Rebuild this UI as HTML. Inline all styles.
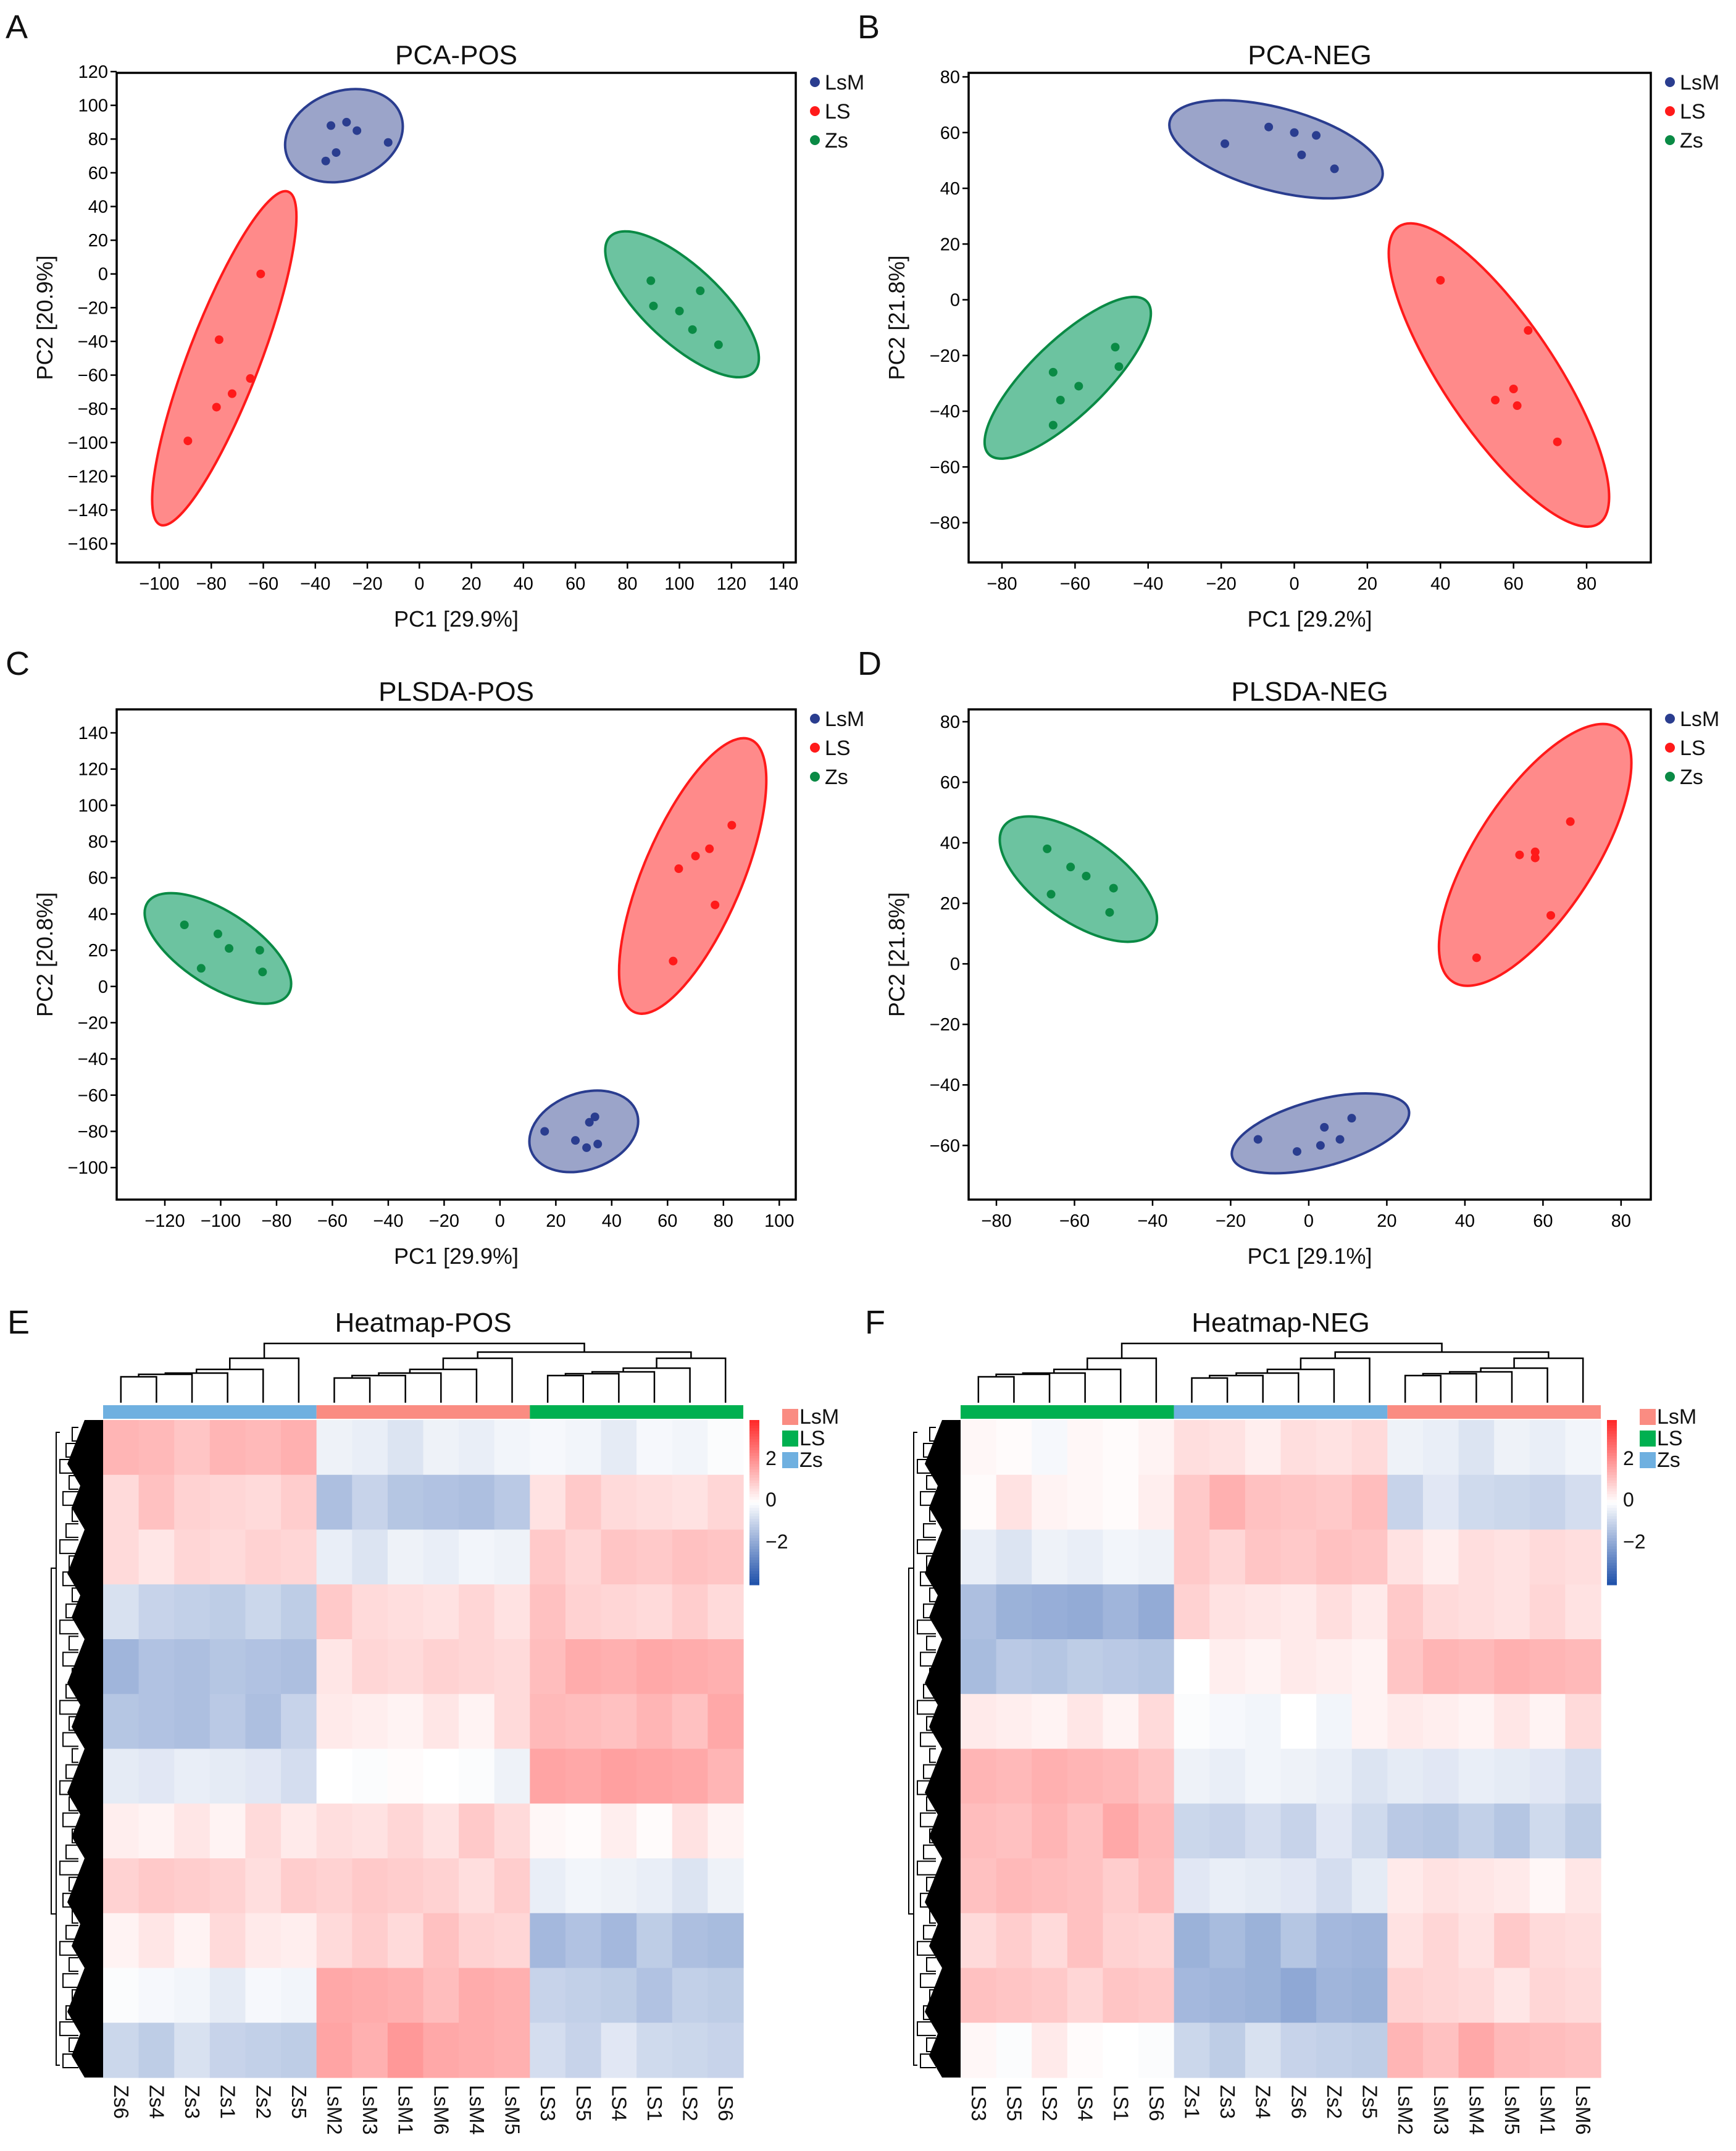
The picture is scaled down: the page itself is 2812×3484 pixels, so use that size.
<!DOCTYPE html>
<html><head><meta charset="utf-8">
<style>
html,body{margin:0;padding:0;background:#fff}
svg{display:block;font-family:"Liberation Sans",Arial,sans-serif}
</style></head>
<body>
<svg id="fig" width="2812" height="3484" viewBox="0 0 2812 3484" xmlns="http://www.w3.org/2000/svg"></svg>
<script>
// ---------- scatter data ----------
const groups = ['LsM','LS','Zs'];
const A_LsM_x=[-34,-28,-24,-12,-32,-36], A_LsM_y=[88,90,85,78,72,67];
const A_LS_x=[-61,-77,-65,-72,-78,-89], A_LS_y=[0,-39,-62,-71,-79,-99];
const A_Zs_x=[89,108,90,100,105,115], A_Zs_y=[-4,-10,-19,-22,-33,-42];
const B_LsM_x=[-19,-7,0,2,6,11], B_LsM_y=[56,62,60,52,59,47];
const B_LS_x=[40,64,60,55,61,72], B_LS_y=[7,-11,-32,-36,-38,-51];
const B_Zs_x=[-49,-48,-59,-64,-66,-66], B_Zs_y=[-17,-24,-31,-36,-26,-45];
const C_LsM_x=[16,34,32,27,31,35], C_LsM_y=[-80,-72,-75,-85,-89,-87];
const C_LS_x=[83,75,70,64,77,62], C_LS_y=[89,76,72,65,45,14];
const C_Zs_x=[-113,-101,-97,-86,-85,-107], C_Zs_y=[34,29,21,20,8,10];
const D_LsM_x=[11,4,8,3,-13,-3], D_LsM_y=[-51,-54,-58,-60,-58,-62];
const D_LS_x=[67,58,54,58,62,43], D_LS_y=[47,37,36,35,16,2];
const D_Zs_x=[-67,-61,-57,-50,-51,-66], D_Zs_y=[38,32,29,25,17,23];
// ellipse centers in data units
const A_ell_cx=[-29,-75,101], A_ell_cy=[82,-50,-18];
const B_ell_cx=[-5,56,-62], B_ell_cy=[54,-27,-28];
const C_ell_cx=[30,69,-101], C_ell_cy=[-80,61,21];
const D_ell_cx=[3,58,-59], D_ell_cy=[-56,36,28];
const A_xt=[-100,-80,-60,-40,-20,0,20,40,60,80,100,120,140], A_yt=[120,100,80,60,40,20,0,-20,-40,-60,-80,-100,-120,-140,-160];
const B_xt=[-80,-60,-40,-20,0,20,40,60,80], B_yt=[80,60,40,20,0,-20,-40,-60,-80];
const C_xt=[-120,-100,-80,-60,-40,-20,0,20,40,60,80,100], C_yt=[140,120,100,80,60,40,20,0,-20,-40,-60,-80,-100];
const D_xt=[-80,-60,-40,-20,0,20,40,60,80], D_yt=[80,60,40,20,0,-20,-40,-60];

// ---------- heatmap data (segment means per group) ----------
const E_cols=['Zs6','Zs4','Zs3','Zs1','Zs2','Zs5','LsM2','LsM3','LsM1','LsM6','LsM4','LsM5','LS3','LS5','LS4','LS1','LS2','LS6'];
const E_Zs=[0.8,0.6,0.4,-0.6,-1.0,-0.8,-0.4,0.3,0.5,0.3,-0.2,-0.6];
const E_LsM=[-0.3,-0.8,-0.3,0.5,0.4,0.3,-0.1,0.5,0.5,0.6,0.9,1.1];
const E_LS=[-0.2,0.5,0.6,0.6,0.9,0.9,1.0,0.2,-0.3,-0.9,-0.8,-0.5];
const F_cols=['LS3','LS5','LS2','LS4','LS1','LS6','Zs1','Zs3','Zs4','Zs6','Zs2','Zs5','LsM2','LsM3','LsM4','LsM5','LsM1','LsM6'];
const F_LS=[0,0.2,-0.3,-1.1,-0.9,0.3,0.8,0.9,0.7,0.6,0.6,0.1];
const F_Zs=[0.3,0.8,0.6,0.4,0.1,0,-0.3,-0.5,-0.4,-1.0,-1.2,-0.6];
const F_LsM=[-0.3,-0.5,0.3,0.5,0.8,0.3,-0.4,-0.7,0.2,0.5,0.4,0.9];
const colOffset=[0.1,-0.15,0.05,0.15,-0.1,-0.05,0.1,-0.1,0.05,-0.15,0.15,0];

const svg=document.getElementById('fig');
const NS='http://www.w3.org/2000/svg';
function mk(tag,attrs,parent,text){const e=document.createElementNS(NS,tag);for(const k in attrs)e.setAttribute(k,attrs[k]);if(text!==undefined)e.textContent=text;(parent||svg).appendChild(e);return e;}

const fill={LsM:'#9ba4c9',LS:'#ff8a8a',Zs:'#6cc3a0'};
const stroke={LsM:'#2a3d8f',LS:'#ff1a1a',Zs:'#0a8a45'};
const dot={LsM:'#2a3d8f',LS:'#ff1a1a',Zs:'#0a8a45'};

function panel(cfg){
  const g=mk('g',{});
  
  
  const sx=v=>cfg.x0+(v-cfg.xmin)*cfg.kx;
  const sy=v=>cfg.y0+(cfg.ymax-v)*cfg.ky;
  cfg.ell.forEach((e,i)=>{
    const cx=sx(cfg.ecx[i]), cy=sy(cfg.ecy[i]);
    const el=mk('ellipse',{cx:cx,cy:cy,rx:e[0],ry:e[1],transform:`rotate(${e[2]} ${cx} ${cy})`,fill:fill[groups[i]],stroke:stroke[groups[i]],'stroke-width':4},g);
    
    
  });
  groups.forEach((gr,i)=>{
    cfg.px[i].forEach((xv,j)=>{
      const c=mk('circle',{cx:sx(xv),cy:sy(cfg.py[i][j]),r:7,fill:dot[gr]},g);
      
      
    });
  });
  const f=mk('rect',{x:cfg.fx0,y:cfg.fy0,width:cfg.fx1-cfg.fx0,height:cfg.fy1-cfg.fy0,fill:'none',stroke:'#000','stroke-width':3.5},g);
  
  
  cfg.xt.forEach(t=>{
    const x=sx(t);
    mk('line',{x1:x,y1:cfg.fy1,x2:x,y2:cfg.fy1+10,stroke:'#000','stroke-width':2.5},g);
    const tx=mk('text',{x:x,y:cfg.fy1+44,'font-size':29,'text-anchor':'middle',fill:'#000'},g,t<0?'\u2212'+(-t):String(t));
    
    
  });
  cfg.yt.forEach(t=>{
    const y=sy(t);
    mk('line',{x1:cfg.fx0-10,y1:y,x2:cfg.fx0,y2:y,stroke:'#000','stroke-width':2.5},g);
    const tx=mk('text',{x:cfg.fx0-14,y:y+10,'font-size':29,'text-anchor':'end',fill:'#000'},g,t<0?'\u2212'+(-t):String(t));
    
    
  });
  const cxm=(cfg.fx0+cfg.fx1)/2;
  const ti=mk('text',{x:cxm,y:cfg.fy0-14,'font-size':44,'text-anchor':'middle',fill:'#111'},g,cfg.title);
  
  
  const xl=mk('text',{x:cxm,y:cfg.fy1+104,'font-size':36,'text-anchor':'middle',fill:'#111'},g,cfg.xlab);
  
  
  const ym=(cfg.fy0+cfg.fy1)/2;
  const yl=mk('text',{x:cfg.fx0-104,y:ym,'font-size':36,'text-anchor':'middle',fill:'#111',transform:`rotate(-90 ${cfg.fx0-104} ${ym})`},g,cfg.ylab);
  
  
  const le=mk('text',{x:cfg.fx0-180,y:cfg.fy0-56,'font-size':54,fill:'#111'},g,cfg.letter);
  
  
  groups.forEach((gr,i)=>{
    const ly=cfg.fy0+15+i*47;
    const c=mk('circle',{cx:cfg.fx1+31,cy:ly,r:8,fill:dot[gr]},g);
    
    
    const t=mk('text',{x:cfg.fx1+47,y:ly+12,'font-size':34,fill:'#111'},g,gr);
    
    
  });
}

panel({name:'pca-pos-panel',letter:'A',title:'PCA-POS',xlab:'PC1 [29.9%]',ylab:'PC2 [20.9%]',
  fx0:189,fx1:1289,fy0:118,fy1:911,x0:258,xmin:-100,kx:4.213,y0:116,ymax:120,ky:2.731,
  xt:A_xt,yt:A_yt,px:[A_LsM_x,A_LS_x,A_Zs_x],py:[A_LsM_y,A_LS_y,A_Zs_y],
  ecx:A_ell_cx,ecy:A_ell_cy,ell:[[98,72,-20],[289,58,-69],[160,62,43]]});
panel({name:'pca-neg-panel',letter:'B',title:'PCA-NEG',xlab:'PC1 [29.2%]',ylab:'PC2 [21.8%]',
  fx0:1569,fx1:2674,fy0:118,fy1:911,x0:1623,xmin:-80,kx:5.919,y0:124.5,ymax:80,ky:4.513,
  xt:B_xt,yt:B_yt,px:[B_LsM_x,B_LS_x,B_Zs_x],py:[B_LsM_y,B_LS_y,B_Zs_y],
  ecx:B_ell_cx,ecy:B_ell_cy,ell:[[178,67,15],[290,90,56],[178,60,-44]]});
panel({name:'plsda-pos-panel',letter:'C',title:'PLSDA-POS',xlab:'PC1 [29.9%]',ylab:'PC2 [20.8%]',
  fx0:189,fx1:1289,fy0:1149,fy1:1943,x0:267,xmin:-120,kx:4.524,y0:1187,ymax:140,ky:2.934,
  xt:C_xt,yt:C_yt,px:[C_LsM_x,C_LS_x,C_Zs_x],py:[C_LsM_y,C_LS_y,C_Zs_y],
  ecx:C_ell_cx,ecy:C_ell_cy,ell:[[91,62,-20],[240,80,-67],[136,60,33]]});
panel({name:'plsda-neg-panel',letter:'D',title:'PLSDA-NEG',xlab:'PC1 [29.1%]',ylab:'PC2 [21.8%]',
  fx0:1569,fx1:2674,fy0:1149,fy1:1943,x0:1614,xmin:-80,kx:6.324,y0:1169,ymax:80,ky:4.902,
  xt:D_xt,yt:D_yt,px:[D_LsM_x,D_LS_x,D_Zs_x],py:[D_LsM_y,D_LS_y,D_Zs_y],
  ecx:D_ell_cx,ecy:D_ell_cy,ell:[[148,54,-15],[245,96,-57],[148,68,35]]});

// ---------- heatmaps ----------
function col(v){
  const t=Math.max(-1,Math.min(1,v/2.6));
  let r,g,b;
  if(t>=0){r=255;g=Math.round(255-215*t);b=Math.round(255-215*t);}
  else{const u=-t;r=Math.round(255-225*u);g=Math.round(255-175*u);b=Math.round(255-85*u);}
  return `rgb(${r},${g},${b})`;
}
const barCol={LsM:'#fa8c82',LS:'#00b050',Zs:'#6fb0e0'};
function heatmap(cfg){
  const g=mk('g',{});
  
  
  const n=cfg.cols.length, cw=(cfg.x1-cfg.x0)/n, nseg=cfg.data[0].length, sh=(cfg.y1-cfg.y0)/nseg;
  for(let c=0;c<n;c++){
    const gi=Math.floor(c/6), ci=c%6;
    for(let s=0;s<nseg;s++){
      const v=cfg.data[gi][s]+colOffset[(ci*2+s)%12];
      const r=mk('rect',{x:cfg.x0+c*cw,y:cfg.y0+s*sh,width:cw+0.6,height:sh+0.6,fill:col(v)},g);
      
      
    }
    const lx=cfg.x0+(c+0.5)*cw-11, ly=cfg.y1+12;
    const t=mk('text',{x:lx,y:ly,'font-size':33,fill:'#111',transform:`rotate(90 ${lx} ${ly})`},g,cfg.cols[c]);
    
    
  }
  cfg.order.forEach((gr,i)=>{
    const r=mk('rect',{x:cfg.x0+i*6*cw,y:cfg.y0-24,width:6*cw,height:22,fill:barCol[gr]},g);
    
    
  });
  const dg=mk('g',{stroke:'#000','stroke-width':2.5,fill:'none'},g);
  
  
  const base=cfg.y0-28, cx=i=>cfg.x0+(i+0.5)*cw;
  const hts=[[72,54,48,46,42],[72,54,48,44,40],[72,56,50,47,44]];
  const tops=[];
  for(let gi=0;gi<3;gi++){
    let left=cx(gi*6), lh=base;
    for(let k=1;k<6;k++){
      const right=cx(gi*6+k);
      const h=base-hts[gi][5-k];
      mk('path',{d:`M${left} ${lh}V${h}H${right}V${base}`},dg);
      left=(left+right)/2; lh=h;
    }
    tops.push([left,lh]);
  }
  const h1=base-82, h2=base-96;
  mk('path',{d:`M${tops[1][0]} ${tops[1][1]}V${h1}H${tops[2][0]}V${tops[2][1]}`},dg);
  const m=(tops[1][0]+tops[2][0])/2;
  mk('path',{d:`M${tops[0][0]} ${tops[0][1]}V${h2}H${m}V${h1}`},dg);
  // row dendrogram
  const rd=mk('g',{},g);
  
  
  let poly=`M${cfg.x0} ${cfg.y0}`;
  for(let i=0;i<=30;i++){
    const y=cfg.y0+i*(cfg.y1-cfg.y0)/30;
    const w=30+((i*7)%5)*7;
    poly+=`L${cfg.x0-w} ${y}`;
  }
  poly+=`L${cfg.x0} ${cfg.y1}Z`;
  mk('path',{d:poly,fill:'#000'},rd);
  let p='';
  for(let i=0;i<40;i++){
    const y=cfg.y0+12+i*(cfg.y1-cfg.y0-24)/40;
    const xl=cfg.x0-50-((i*7)%5)*5;
    p+=`M${cfg.x0-40} ${y}H${xl}V${y+22}H${cfg.x0-40}`;
  }
  mk('path',{d:p,stroke:'#000','stroke-width':2,fill:'none'},rd);
  mk('path',{d:`M${cfg.x0-70} ${cfg.y0+20}H${cfg.x0-76}V${cfg.y1-20}H${cfg.x0-70}M${cfg.x0-76} ${cfg.y0+240}H${cfg.x0-84}V${cfg.y0+800}H${cfg.x0-76}`,stroke:'#000','stroke-width':2,fill:'none'},rd);
  const cb=mk('g',{},g);
  
  
  const cbx=cfg.x1+10, cby0=cfg.y0, cbh=267;
  for(let i=0;i<60;i++){
    const v=2.6-5.2*(i+0.5)/60;
    mk('rect',{x:cbx,y:cby0+i*cbh/60,width:16,height:cbh/60+0.6,fill:col(v)},cb);
  }
  [[2,62],[0,129],[-2,197]].forEach(p=>{
    const t=mk('text',{x:cbx+26,y:cby0+p[1]+11,'font-size':32,fill:'#111'},cb,p[0]<0?'\u2212'+(-p[0]):String(p[0]));
    
    
  });
  ['LsM','LS','Zs'].forEach((gr,i)=>{
    const ly=cfg.y0-18+i*35;
    const r=mk('rect',{x:cfg.x1+63,y:ly,width:26,height:26,fill:barCol[gr]},g);
    
    
    const t=mk('text',{x:cfg.x1+91,y:ly+24,'font-size':34,fill:'#111'},g,gr);
    
    
  });
  const ti=mk('text',{x:(cfg.x0+cfg.x1)/2,y:cfg.y0-143,'font-size':44,'text-anchor':'middle',fill:'#111'},g,cfg.title);
  
  
  const le=mk('text',{x:cfg.x0-155,y:cfg.y0-140,'font-size':54,fill:'#111'},g,cfg.letter);
  
  
}
heatmap({name:'heatmap-pos-panel',letter:'E',title:'Heatmap-POS',x0:167,x1:1204,y0:2300,y1:3365,cols:E_cols,order:['Zs','LsM','LS'],data:[E_Zs,E_LsM,E_LS]});
heatmap({name:'heatmap-neg-panel',letter:'F',title:'Heatmap-NEG',x0:1556,x1:2593,y0:2300,y1:3365,cols:F_cols,order:['LS','Zs','LsM'],data:[F_LS,F_Zs,F_LsM]});
</script>
</body></html>
